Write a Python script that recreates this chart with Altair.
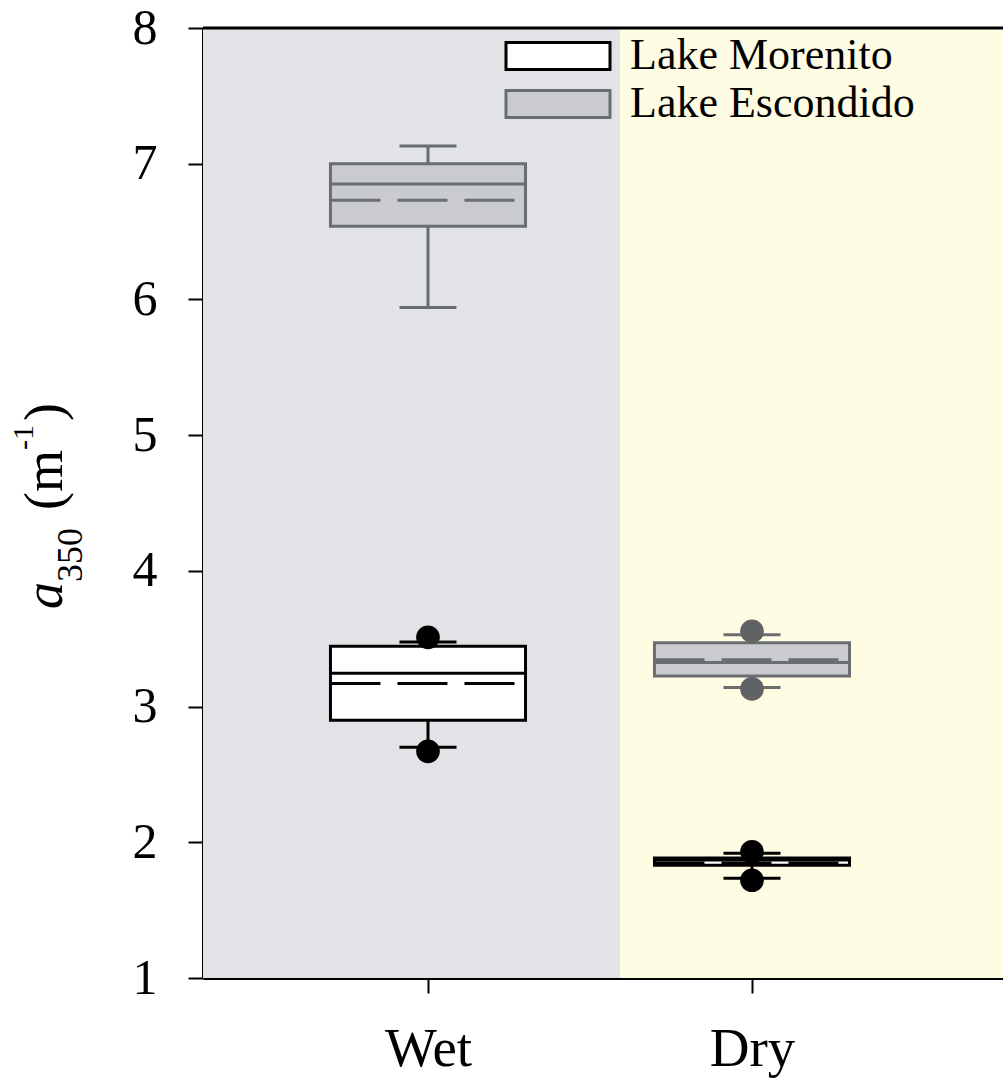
import json
import altair as alt
import pandas as pd

# ---------------- data ----------------
seasons = ["Wet", "Dry"]
lakes = ["Lake Morenito", "Lake Escondido"]

box_season = ["Wet", "Wet", "Dry", "Dry"]
box_lake = ["Lake Morenito", "Lake Escondido", "Lake Morenito", "Lake Escondido"]
whisker_low = [2.70, 5.94, 1.735, 3.14]
q1 = [2.90, 6.54, 1.83, 3.225]
median = [3.245, 6.85, 1.87, 3.325]
mean = [3.17, 6.73, 1.848, 3.345]
q3 = [3.445, 7.00, 1.885, 3.47]
whisker_high = [3.475, 7.13, 1.92, 3.53]

pt_season = ["Wet", "Wet", "Dry", "Dry", "Dry", "Dry"]
pt_lake = ["Lake Morenito", "Lake Morenito", "Lake Morenito", "Lake Morenito",
           "Lake Escondido", "Lake Escondido"]
pt_value = [3.51, 2.67, 1.93, 1.72, 3.555, 3.13]

y_ticks = [1, 2, 3, 4, 5, 6, 7, 8]

# ---------------- layout constants ----------------
X_MIN, X_MAX, X_SPLIT = 0.3056, 2.7747, 1.593
Y_MIN, Y_MAX = 1, 8
BOX_HALF = 0.301
CAP_HALF = 0.088
SERIF = "Liberation Serif"

boxes = pd.DataFrame({
    "season": box_season, "lake": box_lake, "wlo": whisker_low, "q1": q1,
    "median": median, "mean": mean, "q3": q3, "whi": whisker_high,
})
points = pd.DataFrame({"season": pt_season, "lake": pt_lake, "value": pt_value})
bg = pd.DataFrame({"season": seasons})

season_js = json.dumps(seasons)
idx_expr = f"indexof({season_js}, datum.season) + 1"

xscale = alt.Scale(domain=[X_MIN, X_MAX], nice=False, zero=False)
yscale = alt.Scale(domain=[Y_MIN, Y_MAX], nice=False, zero=False)

xaxis = alt.Axis(values=[1, 2], labelExpr=f"{season_js}[datum.value - 1]",
                 title=None, grid=False, tickSize=15, tickWidth=2, tickColor="black",
                 domainColor="black", domainWidth=3, labelFont=SERIF, labelFontSize=55,
                 labelColor="black", labelPadding=29, labelFlush=False, labelOverlap=False)
yaxis = alt.Axis(values=y_ticks, format="d", title=None, grid=False, tickSize=15,
                 tickWidth=2, tickColor="black", domainColor="black", domainWidth=3,
                 labelFont=SERIF, labelFontSize=50, labelColor="black", labelPadding=31,
                 labelFlush=False, labelOverlap=False)


def X(f):
    return alt.X(f, type="quantitative", scale=xscale, axis=xaxis)


def Y(f):
    return alt.Y(f, type="quantitative", scale=yscale, axis=yaxis)


legend = alt.Legend(
    title=None, orient="none", legendX=333, legendY=6,
    symbolType="M-3.4667,-0.9L3.4667,-0.9L3.4667,0.9L-3.4667,0.9Z",
    symbolSize=900, symbolStrokeWidth=3, labelFont=SERIF, labelFontSize=44,
    labelColor="black", labelOffset=50, labelLimit=600, rowPadding=4, padding=0,
)
fill_enc = alt.Fill("lake:N", scale=alt.Scale(domain=lakes, range=["#ffffff", "#c9cbce"]),
                    legend=legend, sort=lakes)
stroke_enc = alt.Stroke("lake:N", scale=alt.Scale(domain=lakes, range=["#000000", "#6a6e71"]),
                        legend=legend, sort=lakes)

box_base = alt.Chart(boxes).transform_calculate(
    xpos=idx_expr,
).transform_calculate(
    xl=f"datum.xpos - {BOX_HALF}", xr=f"datum.xpos + {BOX_HALF}",
    cl=f"datum.xpos - {CAP_HALF}", cr=f"datum.xpos + {CAP_HALF}",
)

background = alt.Chart(bg).transform_calculate(
    x0=f"datum.season == {json.dumps(seasons[0])} ? {X_MIN} : {X_SPLIT}",
    x1=f"datum.season == {json.dumps(seasons[0])} ? {X_SPLIT} : {X_MAX}",
    y0=f"{Y_MIN}", y1=f"{Y_MAX}",
).mark_rect().encode(
    x=X("x0"), x2="x1", y=Y("y0"), y2="y1",
    color=alt.Color("season:N", scale=alt.Scale(domain=seasons, range=["#e1e3e6", "#fefce3"]),
                    legend=None),
)

top_border = alt.Chart(pd.DataFrame({"k": [0]})).transform_calculate(
    x0=f"{X_MIN}", x1=f"{X_MAX}", y0=f"{Y_MAX}",
).mark_rule(color="black", strokeWidth=3).encode(x=X("x0"), x2="x1", y=Y("y0"))

whisk_hi = box_base.mark_rule(strokeWidth=3).encode(x=X("xpos"), y=Y("q3"), y2="whi", stroke=stroke_enc)
whisk_lo = box_base.mark_rule(strokeWidth=3).encode(x=X("xpos"), y=Y("wlo"), y2="q1", stroke=stroke_enc)
cap_hi = box_base.mark_rule(strokeWidth=3).encode(x=X("cl"), x2="cr", y=Y("whi"), stroke=stroke_enc)
cap_lo = box_base.mark_rule(strokeWidth=3).encode(x=X("cl"), x2="cr", y=Y("wlo"), stroke=stroke_enc)
box = box_base.mark_rect(strokeWidth=3).encode(x=X("xl"), x2="xr", y=Y("q1"), y2="q3",
                                                fill=fill_enc, stroke=stroke_enc)
med = box_base.mark_rule(strokeWidth=3).encode(x=X("xl"), x2="xr", y=Y("median"), stroke=stroke_enc)
mn = box_base.mark_rule(strokeWidth=3, strokeDash=[50, 17]).encode(
    x=X("xl"), x2="xr", y=Y("mean"), stroke=stroke_enc)

dots = alt.Chart(points).transform_calculate(xpos=idx_expr).mark_circle(size=560, opacity=1).encode(
    x=X("xpos"), y=Y("value"),
    color=alt.Color("lake:N", scale=alt.Scale(domain=lakes, range=["#000000", "#5f6366"]), legend=None),
)

one = pd.DataFrame({"k": [0]})


def piece(txt, size, px, py, style="normal"):
    return alt.Chart(one).mark_text(
        text=txt, font=SERIF, fontSize=size, fontStyle=style, angle=270,
        align="left", baseline="alphabetic", color="black",
    ).encode(x=alt.value(px), y=alt.value(py))


title_layers = [
    piece("a", 54, -141, 581, "italic"),
    piece("350", 36, -121, 554),
    piece("(m", 54, -141, 482),
    piece("-1", 30, -170, 422),
    piece(")", 54, -141, 393),
]

chart = alt.layer(
    background, top_border, whisk_hi, whisk_lo, cap_hi, cap_lo, box, med, mn, dots,
    *title_layers,
).resolve_scale(color="independent").properties(
    width=800, height=950,
    autosize=alt.AutoSizeParams(type="none"),
    padding={"left": 203, "top": 28, "right": 0, "bottom": 105},
    background="white",
).configure_view(stroke="transparent")

chart.save("out.html", embed_options={"renderer": "svg", "actions": False})
